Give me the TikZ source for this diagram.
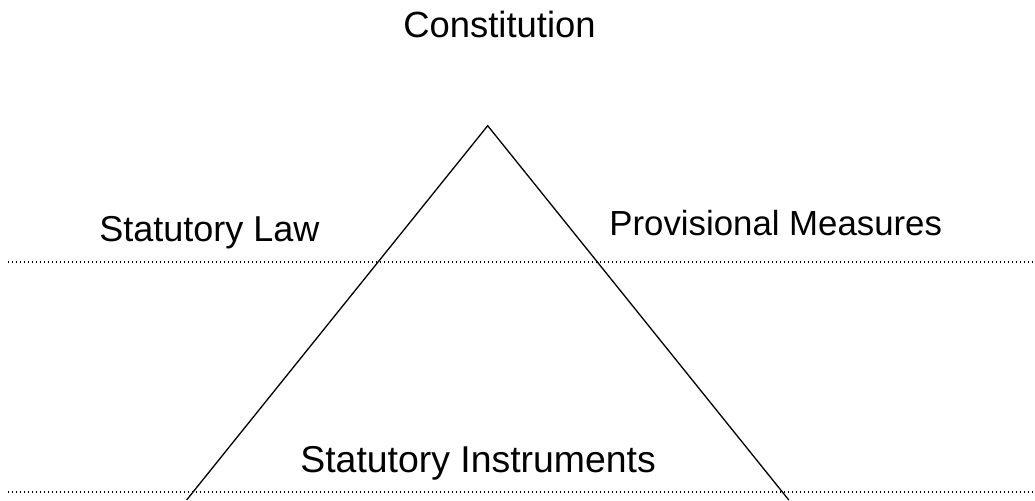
\documentclass[tikz,border=0pt]{standalone}
\usepackage{fontspec}
\setmainfont{Liberation Sans}
\begin{document}
\begin{tikzpicture}[x=0.5pt,y=-0.5pt]
    \tikzset{
        level/.style={dash pattern=on 0.7pt off 1.3pt, line width=0.7pt},
        tier/.style={inner sep=0pt, anchor=base west, font=\fontsize{#1}{21}\selectfont},
        tier/.default=18}
    \useasboundingbox (0,0) rectangle (1035,500);
    % pyramid
    \coordinate (apex) at (487.7,125.7);
    \coordinate (foot l) at (186.6,500);
    \coordinate (foot r) at (788.8,500);
    \draw [line width=0.65pt] (foot l) -- (apex) -- (foot r);
    % levels
    \coordinate (upper w) at (8,262);
    \coordinate (upper e) at (1035,262);
    \coordinate (lower w) at (8,492);
    \coordinate (lower e) at (1035,492);
    \draw [level] (upper w) -- (upper e);
    \draw [level] (lower w) -- (lower e);
    % labels
    \node [tier=18.2] (constitution) at (403,37) {Constitution};
    \node [tier] (law) at (99,241.7) {Statutory Law};
    \node [tier=17.4] (measures) at (609,235) {Provisional Measures};
    \node [tier=18.7] (instruments) at (300,472.7) {Statutory Instruments};
\end{tikzpicture}
\end{document}
